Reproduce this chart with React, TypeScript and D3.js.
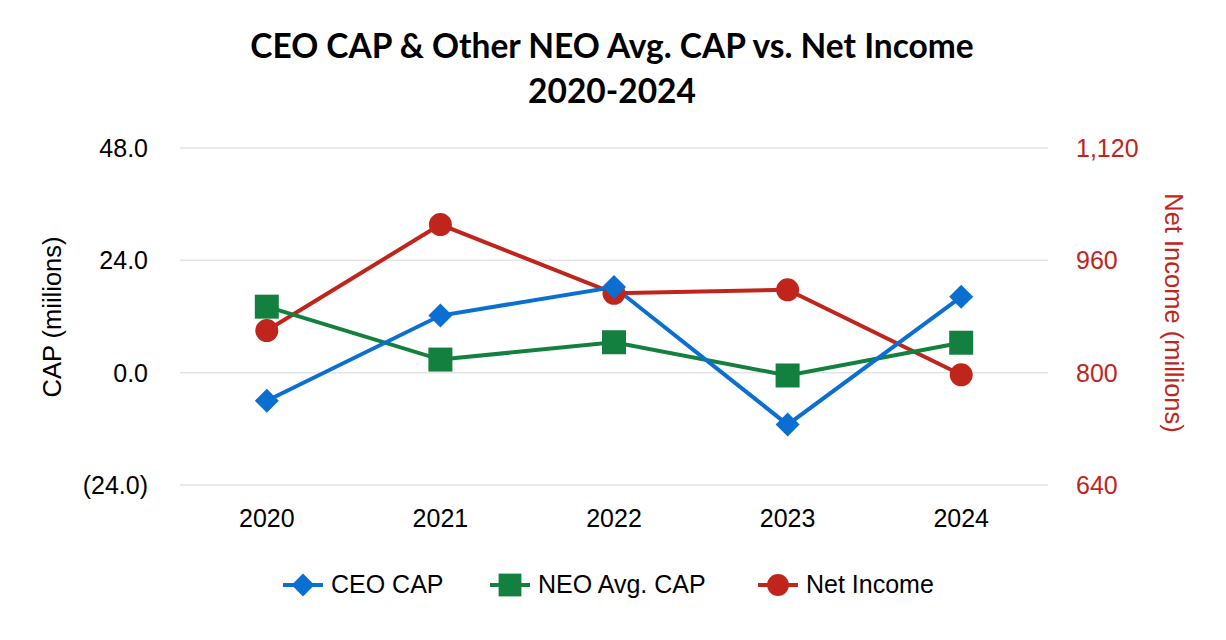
import React from "react";
import * as d3 from "d3";

const years = ["2020", "2021", "2022", "2023", "2024"];
const ceoCap = [-6.0, 12.2, 18.3, -11.1, 16.2];
const neoCap = [14.1, 2.8, 6.5, -0.6, 6.4];
const netIncome = [860, 1011, 913, 918, 797];
const leftTicks = [-24, 0, 24, 48];
const rightTicks = [640, 800, 960, 1120];

const W = 1226, H = 640;
const BLUE = "#0B6FD1";
const GREEN = "#13803F";
const RED = "#C0251C";

const fmtLeft = (v: number) => (v < 0 ? `(${Math.abs(v).toFixed(1)})` : v.toFixed(1));
const fmtRight = d3.format(",");

export default function App() {
  const x = d3.scaleBand().domain(years).range([180, 1048]);
  const yL = d3.scaleLinear().domain([-24, 48]).range([485, 148]);
  const yR = d3.scaleLinear().domain([640, 1120]).range([485, 148]);
  const cx = (y: string) => (x(y) as number) + x.bandwidth() / 2;

  const lineL = d3.line<number>().x((_, i) => cx(years[i])).y((d) => yL(d));
  const lineR = d3.line<number>().x((_, i) => cx(years[i])).y((d) => yR(d));

  const diamond = (px: number, py: number, s: number) =>
    `M${px},${py - s}L${px + s},${py}L${px},${py + s}L${px - s},${py}Z`;

  const legend = [
    { label: "CEO CAP", color: BLUE, kind: "diamond", x0: 283 },
    { label: "NEO Avg. CAP", color: GREEN, kind: "square", x0: 490 },
    { label: "Net Income", color: RED, kind: "circle", x0: 758 },
  ];

  const marker = (kind: string, color: string, px: number, py: number, scale = 1) => {
    if (kind === "diamond") return <path d={diamond(px, py, 12 * scale)} fill={color} />;
    if (kind === "square")
      return <rect x={px - 12 * scale} y={py - 12 * scale} width={24 * scale} height={24 * scale} fill={color} />;
    return <circle cx={px} cy={py} r={11.5 * scale} fill={color} />;
  };

  return (
    <svg width={W} height={H} style={{ position: "absolute", left: 0, top: 0, background: "#fff" }}>
      <rect width={W} height={H} fill="#fff" />
      <g fontFamily="Lato, 'Open Sans', sans-serif" fontWeight="bold" fontSize={33.5} textAnchor="middle" fill="#000">
        <text x={612} y={58}>CEO CAP &amp; Other NEO Avg. CAP vs. Net Income</text>
        <text x={612} y={103}>2020-2024</text>
      </g>
      {leftTicks.map((t) => (
        <line key={t} x1={180} x2={1048} y1={yL(t)} y2={yL(t)} stroke="#e3e3e3" strokeWidth={1.5} />
      ))}
      <g fontFamily="'Liberation Sans', Arial, sans-serif" fontSize={25}>
        {leftTicks.map((t) => (
          <text key={t} x={148} y={yL(t) + 9} textAnchor="end" fill="#000">{fmtLeft(t)}</text>
        ))}
        {rightTicks.map((t) => (
          <text key={t} x={1076} y={yR(t) + 9} textAnchor="start" fill={RED}>{fmtRight(t)}</text>
        ))}
        {years.map((y) => (
          <text key={y} x={cx(y)} y={527} textAnchor="middle" fill="#000">{y}</text>
        ))}
        <text transform={`translate(61,317) rotate(-90)`} textAnchor="middle" fill="#000" fontSize={25.5}>CAP (miilions)</text>
        <text transform={`translate(1165,313) rotate(90)`} textAnchor="middle" fill={RED} fontSize={25.5}>Net Income (millions)</text>
      </g>
      <path d={lineR(netIncome) || ""} fill="none" stroke={RED} strokeWidth={4} />
      <path d={lineL(neoCap) || ""} fill="none" stroke={GREEN} strokeWidth={4} />
      <path d={lineL(ceoCap) || ""} fill="none" stroke={BLUE} strokeWidth={4} />
      {netIncome.map((v, i) => <g key={"r" + i}>{marker("circle", RED, cx(years[i]), yR(v))}</g>)}
      {neoCap.map((v, i) => <g key={"g" + i}>{marker("square", GREEN, cx(years[i]), yL(v))}</g>)}
      {ceoCap.map((v, i) => <g key={"b" + i}>{marker("diamond", BLUE, cx(years[i]), yL(v))}</g>)}
      <g fontFamily="'Liberation Sans', Arial, sans-serif" fontSize={25}>
        {legend.map((l) => (
          <g key={l.label}>
            <line x1={l.x0} x2={l.x0 + 40} y1={585} y2={585} stroke={l.color} strokeWidth={4} />
            {marker(l.kind, l.color, l.x0 + 20, 585, 0.95)}
            <text x={l.x0 + 48} y={593} fill="#000">{l.label}</text>
          </g>
        ))}
      </g>
    </svg>
  );
}
